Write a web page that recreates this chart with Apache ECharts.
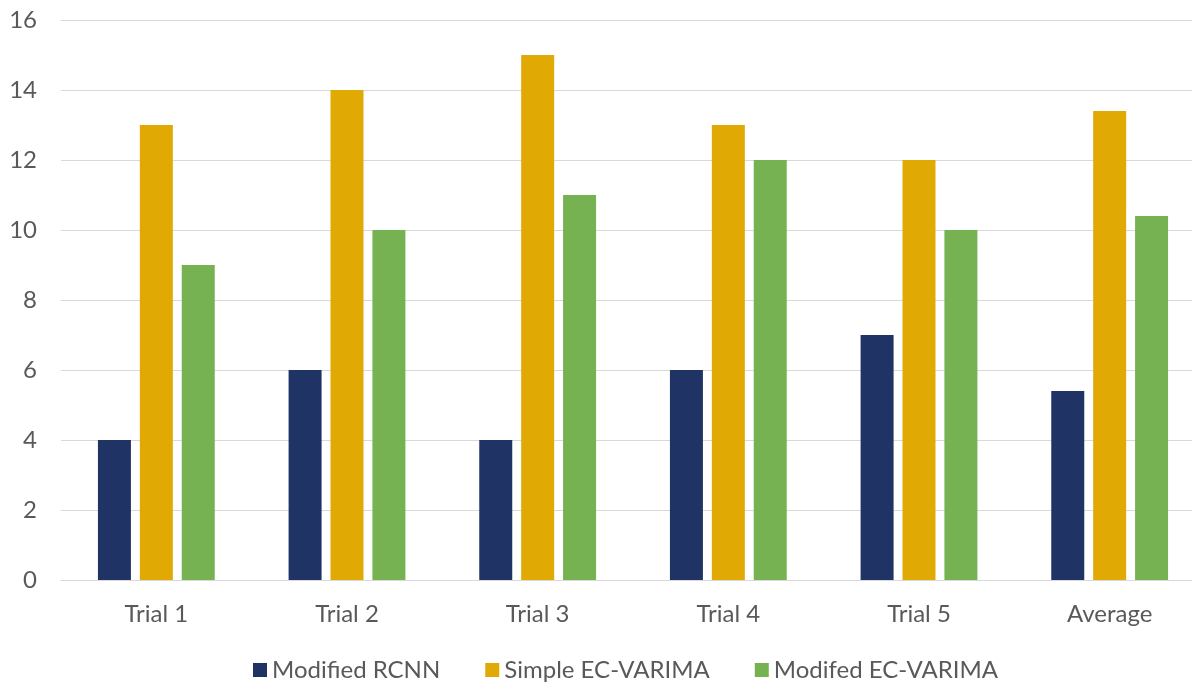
<!DOCTYPE html>
<html>
<head>
<meta charset="utf-8">
<title>Trial comparison</title>
<script src="https://cdn.jsdelivr.net/npm/echarts@6/dist/echarts.min.js"></script>
<style>
  html, body { margin: 0; padding: 0; background: #ffffff; overflow: hidden; }
  /* canvas is a little wider than the page so the plot runs off the right edge */
  #chart { width: 1205px; height: 686px; }
</style>
</head>
<body>
<div id="chart"></div>
<script>
// Categories and per-series values
const categories = ['Trial 1', 'Trial 2', 'Trial 3', 'Trial 4', 'Trial 5', 'Average'];
const modifiedRCNN = [4, 6, 4, 6, 7, 5.4];
const simpleECVARIMA = [13, 14, 15, 13, 12, 13.4];
const modifiedECVARIMA = [9, 10, 11, 12, 10, 10.4];
const seriesNames = ['Modified RCNN', 'Simple EC-VARIMA', 'Modifed EC-VARIMA'];
const seriesColors = ['#1f3464', '#e0a904', '#76b152'];

const font = 'Lato, "Open Sans", sans-serif';
const textColor = '#595959';
const chart = echarts.init(document.getElementById('chart'));

const makeBar = (name, data, color) => ({
  name: name,
  type: 'bar',
  data: data,
  barWidth: 33,
  barGap: '27%',
  itemStyle: { color: color }
});

chart.setOption({
  animation: false,
  backgroundColor: '#ffffff',
  grid: { left: 61, top: 20, right: 0, bottom: 106, containLabel: false },
  legend: {
    top: 653,
    left: 248,
    itemWidth: 14,
    itemHeight: 14,
    itemGap: 45,
    icon: 'rect',
    textStyle: { color: textColor, fontSize: 24, fontFamily: font },
    data: seriesNames
  },
  xAxis: {
    type: 'category',
    data: categories,
    axisLine: { show: true, lineStyle: { color: '#d9d9d9', width: 1 } },
    axisTick: { show: false },
    axisLabel: { color: textColor, fontSize: 24, fontFamily: font, margin: 22 }
  },
  yAxis: {
    type: 'value',
    min: 0,
    max: 16,
    interval: 2,
    axisLine: { show: false },
    axisTick: { show: false },
    axisLabel: { color: textColor, fontSize: 24, fontFamily: font, margin: 24 },
    splitLine: { lineStyle: { color: '#d9d9d9', width: 1 } }
  },
  series: [
    makeBar(seriesNames[0], modifiedRCNN, seriesColors[0]),
    makeBar(seriesNames[1], simpleECVARIMA, seriesColors[1]),
    makeBar(seriesNames[2], modifiedECVARIMA, seriesColors[2])
  ]
});
</script>
</body>
</html>
